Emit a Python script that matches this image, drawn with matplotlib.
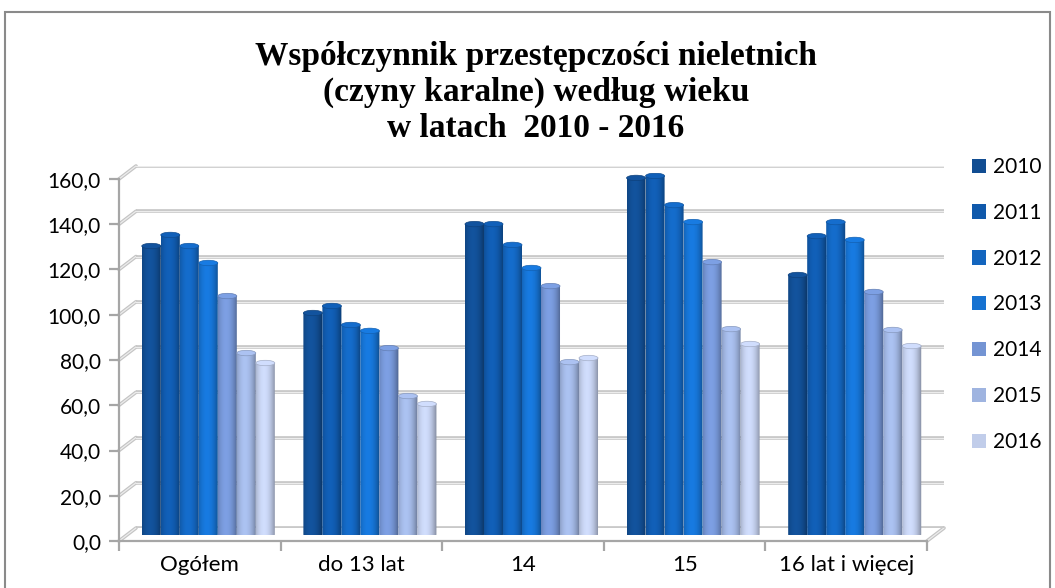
import matplotlib
matplotlib.use('Agg')
import matplotlib.pyplot as plt
import numpy as np
from matplotlib.patches import Rectangle, Ellipse, Patch, Polygon, ConnectionPatch
from matplotlib.colors import to_rgb

categories = ['Ogółem', 'do 13 lat', '14', '15', '16 lat i więcej']
years = ['2010', '2011', '2012', '2013', '2014', '2015', '2016']
v2010 = [127.5, 97.9, 137.2, 157.6, 114.7]
v2011 = [132.4, 101.0, 137.2, 158.5, 131.9]
v2012 = [127.5, 92.6, 128.0, 145.6, 138.1]
v2013 = [120.0, 90.0, 117.8, 138.1, 130.2]
v2014 = [105.4, 82.4, 109.8, 120.4, 107.2]
v2015 = [80.2, 61.2, 76.2, 90.8, 90.4]
v2016 = [75.8, 57.7, 78.0, 84.2, 83.3]
series = [v2010, v2011, v2012, v2013, v2014, v2015, v2016]
colors = ['#114d92', '#1059ab', '#1365be', '#1672d1', '#7494d3', '#9fb4e0', '#c1cdea']
yticks = np.arange(0, 161, 20)

W, H = 1055, 588
fig = plt.figure(figsize=(10.55, 5.88), dpi=100)
fig.patch.set_facecolor('white')

def px_axes(left, top, right, bottom, z):
    ax = fig.add_axes([left / W, 1 - bottom / H, (right - left) / W, (bottom - top) / H])
    ax.set_zorder(z)
    ax.patch.set_alpha(0)
    ax.set_xlim(-0.5, 4.5)
    ax.set_ylim(0, 160)
    return ax

back = px_axes(136, 166, 944, 528, 0)
mid = px_axes(127.5, 172.5, 935.5, 534.5, 1)
front = px_axes(119, 179, 927, 541, 2)

# back wall gridlines (3d plates)
back.axis('off')
for v in yticks:
    back.axhline(v, color='#c4c4c4', lw=2.6, solid_capstyle='round')
    back.axhline(v, color='#ececec', lw=0.9)
    for lw, c in ((2.6, '#c4c4c4'), (0.9, '#ececec')):
        fig.add_artist(ConnectionPatch(xyA=(-0.5, v), coordsA=front.transData,
                                       xyB=(-0.5, v), coordsB=back.transData,
                                       color=c, lw=lw, zorder=0))
for lw, c in ((2.6, '#c4c4c4'), (0.9, '#ececec')):
    fig.add_artist(ConnectionPatch(xyA=(4.5, 0), coordsA=front.transData,
                                   xyB=(4.5, 0), coordsB=back.transData,
                                   color=c, lw=lw, zorder=0))

# cylinders
mid.axis('off')
w = 0.1176
eh = 2.4
t = np.linspace(0, 1, 64)
shade = 0.66 + 0.42 * (1 - ((t - 0.4) / 0.6) ** 2)
theta = np.linspace(np.pi, 2 * np.pi, 30)

def cylinder(ax, x0, h, col):
    base = np.array(to_rgb(col))
    rgb = np.clip(base[None, :] * shade[:, None], 0, 1)
    lo = np.column_stack([x0 + w / 2 + w / 2 * np.cos(theta), eh / 2 * np.sin(theta)])
    pts = np.vstack([lo, [[x0 + w, h], [x0, h]]])
    body = Polygon(pts, closed=True, facecolor='none', edgecolor='none')
    ax.add_patch(body)
    im = ax.imshow(rgb[None, :, :], extent=(x0, x0 + w, -eh / 2, h), aspect='auto',
                   interpolation='bilinear', zorder=2)
    im.set_clip_path(body)
    im.set_clip_on(True)
    top = Ellipse((x0 + w / 2, h), w, eh, facecolor=np.clip(base * 1.08, 0, 1),
                  edgecolor=base * 0.85, lw=0.5, zorder=3)
    ax.add_patch(top)

for j, (vals, col) in enumerate(zip(series, colors)):
    for i, h in enumerate(vals):
        cylinder(mid, i + (j - 3) * w - w / 2, h, col)
mid.set_xlim(-0.5, 4.5)
mid.set_ylim(0, 160)

# front axes: value axis and category axis
for s in ('top', 'right'):
    front.spines[s].set_visible(False)
for s in ('left', 'bottom'):
    front.spines[s].set_color('#a6a6a6')
    front.spines[s].set_linewidth(1.6)
front.set_yticks(yticks)
front.set_yticklabels([f'{v:.1f}'.replace('.', ',') for v in yticks])
front.set_xticks(np.arange(-0.5, 5, 1))
front.set_xticklabels([])
front.set_xticks(np.arange(5), minor=True)
front.set_xticklabels(categories, minor=True)
front.tick_params(axis='both', which='major', color='#a6a6a6', length=7, width=1.6)
front.tick_params(axis='y', labelsize=15, pad=6)
front.tick_params(axis='x', which='minor', length=0, labelsize=16, pad=10)
for lab in front.get_yticklabels() + front.get_xticklabels(minor=True):
    lab.set_family('Lato')

# title
for y, line in ((65, 'Współczynnik przestępczości nieletnich'),
                (101, '(czyny karalne) według wieku'),
                (137, 'w latach  2010 - 2016')):
    fig.text(536 / W, 1 - y / H, line, ha='center', va='baseline',
             family='Liberation Serif', weight='bold', size=24)

# legend
handles = [Patch(facecolor=c) for c in colors]
fig.legend(handles, years, loc='upper left', bbox_to_anchor=(972 / W, 1 - 157 / H),
           frameon=False, prop={'family': 'Lato', 'size': 15}, handlelength=0.68,
           handleheight=0.68, handletextpad=0.35, labelspacing=1.24,
           borderpad=0, borderaxespad=0)

# chart frame
fig.add_artist(Rectangle((5 / W, -0.02), 1045 / W, (588 - 12) / H + 0.02,
                         transform=fig.transFigure, fill=False,
                         edgecolor='#8a8a8a', lw=1.5))

fig.savefig('out.png', dpi=100)
